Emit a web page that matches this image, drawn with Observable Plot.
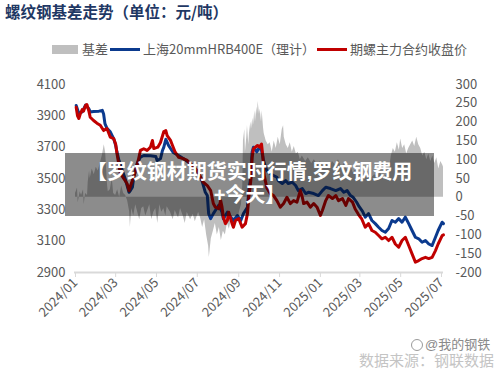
<!DOCTYPE html>
<html><head><meta charset="utf-8">
<script src="https://cdn.jsdelivr.net/npm/d3@7"></script>
<script src="https://cdn.jsdelivr.net/npm/@observablehq/plot@0.6"></script>
<style>
body{margin:0;background:#fff;font-family:"Noto Sans CJK SC","Noto Sans",sans-serif;}
#wrap{position:relative;width:500px;height:370px;overflow:hidden;background:#fff;}
#title{position:absolute;left:5px;top:1px;font-size:15.5px;line-height:20px;font-weight:bold;color:#1f3864;white-space:nowrap;}
.lg{position:absolute;font-size:13px;line-height:16px;color:#595959;white-space:nowrap;top:41px;}
.sw{position:absolute;}
#chart{position:absolute;left:0;top:60px;}
#banner{position:absolute;left:65px;top:153px;width:369px;height:63px;background:rgba(0,0,0,0.45);box-sizing:border-box;padding-top:8px;}
.bl{display:block;height:23px;line-height:23px;color:#fff;font-weight:bold;font-size:20px;text-align:center;white-space:nowrap;font-family:"Liberation Sans","Noto Sans CJK SC",sans-serif;}
#src{position:absolute;left:359px;top:352px;font-size:15px;line-height:18px;height:18px;color:#c4c4c4;white-space:nowrap;font-family:"Liberation Sans","Noto Sans CJK SC",sans-serif;}
#wb{position:absolute;left:425px;top:337px;font-size:13px;line-height:16px;height:16px;color:#8a8a8a;white-space:nowrap;text-shadow:0 0 2px #fff,0 0 2px #fff;font-family:"Liberation Sans","Noto Sans CJK SC",sans-serif;}
#wbi{position:absolute;left:411px;top:339px;width:12px;height:12px;border-radius:50%;border:1.5px solid #9a9a9a;box-sizing:border-box;}
</style>
</head><body>
<div id="wrap">
  <div id="title">螺纹钢基差走势（单位：元/吨）</div>
  <div class="sw" style="left:52px;top:45px;width:26px;height:9px;background:#bfbfbf;"></div>
  <div class="lg" style="left:82px;">基差</div>
  <div class="sw" style="left:110px;top:48px;width:30px;height:3px;background:#0b3a8e;"></div>
  <div class="lg" style="left:143px;">上海20mmHRB400E（理计）</div>
  <div class="sw" style="left:317px;top:48px;width:30px;height:3px;background:#c00000;"></div>
  <div class="lg" style="left:350px;">期螺主力合约收盘价</div>
  <div id="chart"></div>
  <div id="banner"><div class="bl">【罗纹钢材期货实时行情,罗纹钢费用</div><div class="bl">+今天】</div></div>
  <div id="wbi"></div>
  <div id="wb">@我的钢铁</div>
  <div id="src">数据来源：钢联数据</div>
</div>
<script>
// x tick labels and y tick values
const xTickLabels = ["2024/01","2024/03","2024/05","2024/07","2024/09","2024/11","2025/01","2025/03","2025/05","2025/07"];
const leftTicks = [2900, 3100, 3300, 3500, 3700, 3900, 4100];
const rightTicks = [-200, -150, -100, -50, 0, 50, 100, 150, 200, 250, 300];

// 上海20mmHRB400E（理计）: days since 2024-01-01, price
const spotDays = [1,5,10,15,20,22,27,35,40,42,44,47,52,57,60,62,65,70,75,80,82,85,87,92,97,102,112,120,122,127,130,132,135,139,146,154,161,169,173,179,184,189,194,197,199,202,206,209,214,219,221,227,232,236,242,247,251,257,259,262,264,266,271,275,278,281,284,286,291,296,301,303,309,314,318,324,329,333,339,344,348,356,363,369,374,381,389,396,401,406,411,415,420,424,429,433,438,443,448,453,458,463,468,473,478,483,488,493,498,503,508,513,518,523,528,533,538,542,548,550];
const spotVals = [3966,3915,3925,3968,3945,3925,3928,3930,3935,3912,3850,3820,3798,3755,3712,3668,3615,3551,3487,3412,3423,3444,3508,3594,3636,3647,3645,3640,3615,3626,3679,3700,3750,3711,3666,3647,3627,3604,3590,3564,3532,3487,3412,3391,3276,3244,3276,3296,3328,3285,3244,3285,3253,3232,3264,3232,3276,3317,3420,3508,3668,3700,3670,3700,3680,3615,3572,3551,3532,3519,3508,3487,3468,3487,3468,3476,3455,3423,3436,3404,3412,3404,3391,3423,3444,3436,3423,3436,3412,3423,3391,3380,3350,3320,3290,3253,3276,3232,3212,3189,3168,3157,3181,3232,3221,3244,3221,3253,3212,3168,3125,3115,3093,3104,3082,3072,3125,3168,3221,3212];

// 期螺主力合约收盘价
const futDays = [1,3,5,7,10,12,15,17,20,22,27,32,37,42,47,52,57,60,62,67,72,77,80,82,85,90,94,97,102,107,112,115,117,123,127,132,135,137,142,145,149,154,161,167,174,182,187,191,197,202,206,209,214,217,219,221,224,227,229,234,236,239,244,249,254,257,259,262,264,266,272,275,278,280,282,286,291,296,301,306,311,316,321,326,331,336,339,341,346,351,356,361,366,369,374,378,384,389,393,399,404,408,414,418,423,428,433,438,443,448,453,458,463,468,473,478,483,488,493,498,503,508,513,518,523,528,533,538,542,548,550];
const futVals = [3955,3900,3883,3910,3940,3930,3966,3972,3930,3891,3870,3853,3840,3806,3819,3764,3755,3720,3660,3532,3500,3468,3423,3450,3487,3551,3620,3679,3690,3679,3700,3743,3691,3700,3730,3800,3806,3774,3743,3711,3668,3636,3627,3615,3583,3551,3508,3476,3455,3423,3340,3317,3308,3359,3317,3253,3212,3232,3285,3212,3189,3232,3244,3189,3212,3276,3380,3487,3636,3691,3711,3700,3720,3640,3520,3440,3404,3391,3359,3317,3340,3380,3340,3359,3349,3423,3380,3340,3349,3317,3340,3317,3264,3296,3359,3391,3372,3391,3359,3372,3328,3372,3349,3305,3270,3240,3189,3212,3168,3157,3136,3115,3125,3104,3125,3082,3061,3104,3125,3072,3019,2966,2976,2989,2997,2989,2997,3040,3082,3136,3140];

// 基差 (right axis)
const basisDays = [0,3,4,7,9,12,13,15,18,19,21,22,25,28,31,34,37,40,43,45,46,48,49,52,55,57,60,63,66,69,72,75,78,81,82,84,87,90,93,96,99,102,105,108,111,114,117,120,123,126,129,132,135,137,142,146,149,154,157,161,164,167,172,176,179,184,187,190,193,196,199,200,203,206,209,212,215,218,221,224,227,230,233,236,239,242,245,248,250,251,253,254,256,257,259,260,262,263,265,266,268,269,271,272,273,275,276,278,279,281,282,285,288,291,294,297,300,303,306,309,311,312,315,318,321,324,327,330,333,336,339,344,348,353,357,362,366,371,375,380,384,389,393,398,402,407,411,415,420,424,429,433,438,442,447,451,456,460,465,469,472,475,478,481,484,486,489,492,495,498,501,504,507,510,513,516,519,522,525,528,531,534,537,540,543,546,549,550];
const basisVals = [10,25,-15,15,5,20,-20,10,5,40,70,50,75,60,80,70,90,110,140,120,90,30,15,20,50,10,5,20,0,30,10,5,-10,-40,-80,-30,-50,-20,-40,-60,-30,-25,-50,-35,-20,-60,-40,-30,-70,-20,-40,-30,-50,-25,-40,-60,-35,-55,-30,-50,-70,-40,-60,-45,-65,-40,-55,-80,-60,-100,-130,-160,-110,-90,-70,-100,-80,-115,-90,-100,-70,-85,-60,-80,-50,-70,-40,-20,30,150,180,120,160,190,140,170,200,180,210,190,230,200,240,220,255,220,235,200,230,185,170,150,140,145,120,150,130,160,140,180,190,160,140,130,145,120,135,115,120,100,110,95,105,90,100,85,95,80,90,75,95,85,100,80,90,70,85,65,75,60,70,55,65,50,60,55,65,50,60,70,110,130,120,145,125,155,130,140,115,130,140,150,135,160,140,130,110,120,100,115,95,110,90,105,75,95,85,80];

const day0 = Date.UTC(2024, 0, 1);
const toDate = d => new Date(day0 + d * 864e5);
// right axis maps onto left axis: 300 ↔ 4100, -200 ↔ 2900
const toPrice = b => 3380 + b * 2.4;
const fromPrice = p => (p - 3380) / 2.4;

const spot = spotDays.map((d, i) => ({date: toDate(d), v: spotVals[i]}));
const fut = futDays.map((d, i) => ({date: toDate(d), v: futVals[i]}));
const basis = basisDays.map((d, i) => ({date: toDate(d), v: basisVals[i]}));
const xTicks = xTickLabels.map(d3.utcParse("%Y/%m"));

const chart = Plot.plot({
  width: 500, height: 310,
  marginTop: 24, marginBottom: 98, marginLeft: 74, marginRight: 57,
  x: {type: "utc", domain: [new Date(Date.UTC(2023, 11, 30, 12)), toDate(550)]},
  y: {domain: [2900, 4100]},
  style: {fontFamily: '"Noto Sans CJK SC","Noto Sans",sans-serif', fontSize: "13px", color: "#595959", background: "transparent"},
  marks: [
    Plot.areaY(basis, {x: "date", y1: d => toPrice(0), y2: d => toPrice(d.v), fill: "#bfbfbf", curve: "linear"}),
    Plot.ruleY([2900], {stroke: "#d9d9d9", strokeWidth: 2}),
    Plot.line(spot, {x: "date", y: "v", stroke: "#0b3a8e", strokeWidth: 3, strokeLinejoin: "round"}),
    Plot.line(fut, {x: "date", y: "v", stroke: "#c00000", strokeWidth: 3, strokeLinejoin: "round"}),
    Plot.axisY(leftTicks, {anchor: "left", tickSize: 0, tickPadding: 9, label: null, fill: "#595959",
      tickFormat: d => String(d)}),
    Plot.axisY(rightTicks.map(toPrice), {anchor: "right", tickSize: 0, tickPadding: 12, label: null, fill: "#595959",
      tickFormat: p => String(Math.round(fromPrice(p)))}),
    Plot.axisX(xTicks, {anchor: "bottom", tickRotate: -45, tickSize: 5, tickPadding: 3, stroke: "#d9d9d9", fill: "#595959",
      label: null, tickFormat: d3.utcFormat("%Y/%m")})
  ]
});
document.getElementById("chart").appendChild(chart);
</script>
</body></html>
